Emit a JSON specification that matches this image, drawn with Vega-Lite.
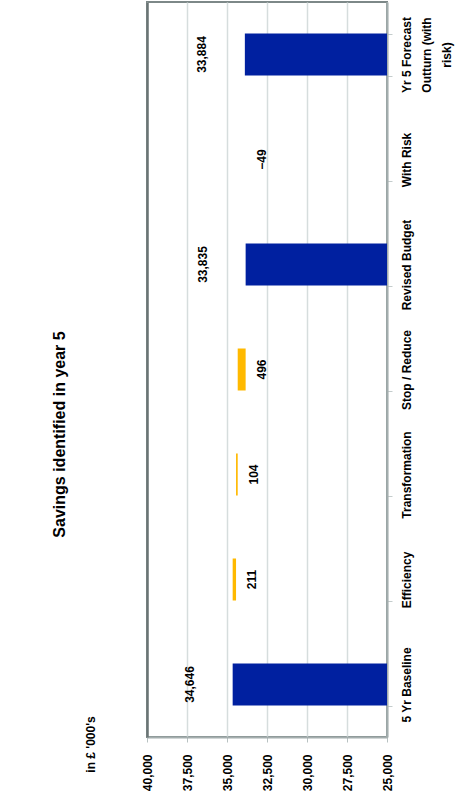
{
  "$schema": "https://vega.github.io/schema/vega-lite/v6.json",
  "width": 240,
  "height": 735,
  "autosize": {"type": "none"},
  "padding": {"left": 147, "top": 2, "right": 76, "bottom": 68},
  "background": "white",
  "config": {
    "font": "Liberation Sans",
    "view": {"stroke": "#7d8888", "strokeWidth": 2},
    "axisX": {
      "title": null,
      "labelAngle": 270,
      "labelAlign": "right",
      "labelBaseline": "middle",
      "labelFontSize": 12,
      "labelFontWeight": "bold",
      "labelColor": "black",
      "labelPadding": 12,
      "labelFlush": false,
      "labelOverlap": false,
      "tickColor": "#b8c2c2",
      "tickSize": 5,
      "domainColor": "#a4aeae",
      "domainWidth": 2,
      "gridColor": "#d6dddd",
      "gridWidth": 1.5
    }
  },
  "title": {
    "text": "Savings identified in year 5",
    "orient": "left",
    "anchor": "middle",
    "fontSize": 16,
    "fontWeight": "bold",
    "color": "black",
    "font": "Liberation Sans",
    "offset": 16,
    "dx": -65
  },
  "data": {
    "values": [
      {"category": "5 Yr Baseline", "kind": "total", "amount": 34646, "lo": 0, "hi": 34646},
      {"category": "Efficiency", "kind": "delta", "amount": 211, "lo": 34435, "hi": 34646},
      {"category": "Transformation", "kind": "delta", "amount": 104, "lo": 34331, "hi": 34435},
      {"category": "Stop / Reduce", "kind": "delta", "amount": 496, "lo": 33835, "hi": 34331},
      {"category": "Revised Budget", "kind": "total", "amount": 33835, "lo": 0, "hi": 33835},
      {"category": "With Risk", "kind": "delta", "amount": -49, "lo": 33835, "hi": 33884},
      {"category": "Yr 5 Forecast Outturn (with risk)", "kind": "total", "amount": 33884, "lo": 0, "hi": 33884}
    ]
  },
  "layer": [
    {
      "transform": [{"filter": "datum.amount > 0"}],
      "mark": {"type": "bar", "clip": true},
      "encoding": {
        "y": {
          "field": "category",
          "type": "nominal",
          "sort": ["Yr 5 Forecast Outturn (with risk)", "With Risk", "Revised Budget", "Stop / Reduce", "Transformation", "Efficiency", "5 Yr Baseline"],
          "scale": {"paddingInner": 0.6, "paddingOuter": 0.3},
          "axis": {
            "orient": "right",
            "title": null,
            "labelAngle": 270,
            "labelAlign": "center",
            "labelBaseline": "top",
            "labelFontSize": 12,
            "labelFontWeight": "bold",
            "labelColor": "black",
            "labelPadding": 9,
            "labelLimit": 300,
            "labelLineHeight": 20,
            "labelExpr": "datum.value == 'Yr 5 Forecast Outturn (with risk)' ? ['Yr 5 Forecast', 'Outturn (with', 'risk)'] : datum.value",
            "tickBand": "extent",
            "tickColor": "#c4cccc",
            "tickSize": 5,
            "domainColor": "#a4aeae",
            "domainWidth": 2,
            "grid": false
          }
        },
        "x": {
          "field": "hi",
          "type": "quantitative",
          "title": null,
          "scale": {"domain": [25000, 40000], "reverse": true, "nice": false, "zero": false},
          "axis": {"values": [25000, 27500, 30000, 32500, 35000, 37500, 40000], "format": ",.0f", "title": null}
        },
        "x2": {"field": "lo"},
        "color": {
          "field": "kind",
          "type": "nominal",
          "scale": {"domain": ["total", "delta"], "range": ["#0020a0", "#ffb900"]},
          "legend": null
        }
      }
    },
    {
      "transform": [{"filter": "datum.kind == 'total'"}],
      "mark": {"type": "text", "angle": 270, "dy": -43, "fontSize": 12, "fontWeight": "bold", "color": "black", "align": "center", "baseline": "middle"},
      "encoding": {
        "y": {
          "field": "category",
          "type": "nominal",
          "sort": ["Yr 5 Forecast Outturn (with risk)", "With Risk", "Revised Budget", "Stop / Reduce", "Transformation", "Efficiency", "5 Yr Baseline"],
          "axis": {
            "orient": "left",
            "labels": false,
            "ticks": false,
            "grid": false,
            "domain": true,
            "domainColor": "#6a7474",
            "domainWidth": 2.5,
            "title": "in £ '000's",
            "titleAngle": 270,
            "titleAnchor": "end",
            "titleAlign": "center",
            "titleBaseline": "bottom",
            "titleY": 742,
            "titleFontSize": 12,
            "titleFontWeight": "bold",
            "titleColor": "black",
            "titlePadding": 50
          }
        },
        "x": {
          "field": "hi",
          "type": "quantitative",
          "title": null,
          "axis": {"values": [25000, 27500, 30000, 32500, 35000, 37500, 40000], "format": ",.0f", "title": null}
        },
        "text": {"field": "amount", "type": "quantitative", "format": ","}
      }
    },
    {
      "transform": [{"filter": "datum.kind == 'delta'"}],
      "mark": {"type": "text", "angle": 270, "dy": 16, "fontSize": 12, "fontWeight": "bold", "color": "black", "align": "center", "baseline": "middle"},
      "encoding": {
        "y": {
          "field": "category",
          "type": "nominal",
          "sort": ["Yr 5 Forecast Outturn (with risk)", "With Risk", "Revised Budget", "Stop / Reduce", "Transformation", "Efficiency", "5 Yr Baseline"],
          "axis": null
        },
        "x": {
          "field": "lo",
          "type": "quantitative",
          "title": null,
          "axis": {"values": [25000, 27500, 30000, 32500, 35000, 37500, 40000], "format": ",.0f", "title": null}
        },
        "text": {"field": "amount", "type": "quantitative", "format": ","}
      }
    }
  ],
  "resolve": {"axis": {"y": "independent"}}
}
